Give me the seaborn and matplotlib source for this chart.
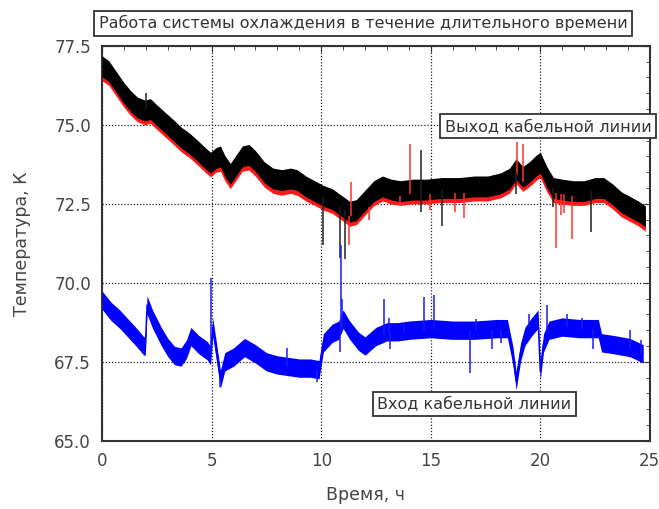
# === IMPORTS ===
import numpy as np
import pandas as pd
import seaborn as sns
import matplotlib.pyplot as plt
from matplotlib.ticker import MultipleLocator, FormatStrFormatter

# === SETTINGS ===
sns.set_style("white")
plt.rcParams["font.family"] = ["DejaVu Sans"]

# === DATA ===
# outlet of the cable line (black band, red band just below it)
time_out = [0.0, 0.3, 0.7, 1.0, 1.3, 1.6, 1.95, 2.2, 2.5, 2.9, 3.3, 3.6, 4.0, 4.4, 4.7,
            4.95, 5.2, 5.4, 5.6, 5.85, 6.1, 6.4, 6.7, 7.0, 7.4, 7.8, 8.2, 8.6, 8.9, 9.3,
            9.7, 10.1, 10.5, 10.9, 11.3, 11.6, 12.0, 12.4, 12.8, 13.2, 13.6, 14.2, 14.8,
            15.5, 16.3, 17.0, 17.6, 18.2, 18.6, 18.9, 19.2, 19.5, 19.8, 20.0, 20.3, 20.6,
            21.0, 21.5, 22.0, 22.5, 22.9, 23.3, 23.7, 24.1, 24.5, 24.8]
out_black = [76.85, 76.7, 76.3, 76.0, 75.75, 75.55, 75.45, 75.5, 75.3, 75.05, 74.8, 74.6,
             74.4, 74.15, 73.95, 73.8, 73.95, 74.0, 73.7, 73.45, 73.7, 74.0, 74.05, 73.85,
             73.5, 73.3, 73.25, 73.3, 73.25, 73.05, 72.9, 72.75, 72.65, 72.45, 72.25, 72.3,
             72.6, 72.9, 73.05, 72.95, 72.9, 72.95, 72.95, 73.0, 73.0, 73.05, 73.05, 73.15,
             73.3, 73.6, 73.35, 73.5, 73.7, 73.8, 73.35, 73.0, 72.95, 72.9, 72.9, 73.0,
             73.0, 72.8, 72.55, 72.4, 72.25, 72.1]
out_red = [76.72, 76.58, 76.18, 75.88, 75.63, 75.43, 75.33, 75.38, 75.18, 74.93, 74.68,
           74.48, 74.28, 74.03, 73.83, 73.68, 73.83, 73.86, 73.56, 73.31, 73.56, 73.86,
           73.9, 73.7, 73.36, 73.16, 73.1, 73.16, 73.1, 72.92, 72.78, 72.63, 72.53, 72.33,
           72.12, 72.17, 72.47, 72.77, 72.92, 72.82, 72.78, 72.83, 72.83, 72.87, 72.87,
           72.92, 72.92, 73.02, 73.17, 73.47, 73.22, 73.37, 73.56, 73.66, 73.21, 72.87,
           72.82, 72.78, 72.78, 72.87, 72.87, 72.67, 72.42, 72.27, 72.12, 71.96]

# inlet of the cable line (blue band)
time_in = [0.0, 0.4, 0.8, 1.2, 1.6, 1.9, 1.97, 2.05, 2.3, 2.7, 3.0, 3.3, 3.6, 3.85, 4.05,
           4.4, 4.8, 4.95, 5.05, 5.2, 5.4, 5.6, 6.0, 6.5, 7.0, 7.5, 8.0, 8.5, 9.0, 9.5,
           9.9, 10.1, 10.5, 10.8, 11.0, 11.3, 11.7, 12.0, 12.5, 13.0, 13.5, 14.0, 15.0,
           16.0, 17.0, 18.0, 18.5, 18.75, 18.9, 19.1, 19.3, 19.6, 19.9, 20.0, 20.15, 20.4,
           21.0, 21.8, 22.65, 22.8, 23.3, 24.1, 24.7]
in_blue = [69.45, 69.1, 68.85, 68.55, 68.25, 68.0, 68.0, 69.3, 68.85, 68.3, 67.95, 67.7,
           67.65, 67.9, 68.3, 68.05, 67.85, 67.7, 68.6, 67.9, 66.95, 67.5, 67.65, 67.95,
           67.75, 67.5, 67.4, 67.35, 67.3, 67.3, 67.25, 68.1, 68.4, 68.5, 68.85, 68.5,
           68.15, 68.0, 68.3, 68.45, 68.45, 68.5, 68.55, 68.5, 68.5, 68.55, 68.55, 67.7,
           66.9, 67.8, 68.3, 68.6, 68.85, 67.2, 68.1, 68.5, 68.6, 68.55, 68.55, 68.1,
           68.05, 67.95, 67.75]

# single-sample spikes: time, band level, spike tip
spike_black_t = [2.0, 10.1, 10.85, 11.1, 14.55, 14.55, 15.5, 18.9, 20.6, 22.3]
spike_black_base = [75.5, 72.7, 72.4, 72.3, 72.9, 72.9, 72.95, 73.5, 73.0, 72.9]
spike_black_tip = [76.0, 71.2, 70.8, 70.75, 74.2, 72.25, 71.8, 72.8, 72.4, 71.6]

spike_red_t = [11.25, 11.35, 12.2, 13.6, 14.05, 14.95, 16.1, 16.5, 18.95, 19.2,
               20.7, 20.95, 21.1, 21.45]
spike_red_base = [72.1, 72.1, 72.4, 72.75, 72.8, 72.8, 72.85, 72.85, 73.4, 73.2,
                  72.85, 72.8, 72.8, 72.75]
spike_red_tip = [71.2, 73.2, 72.0, 72.45, 74.4, 72.3, 72.25, 72.05, 74.45, 74.4,
                 71.1, 72.15, 72.2, 71.4]

spike_blue_t = [4.95, 5.4, 8.45, 9.8, 10.85, 10.9, 10.95, 12.85, 13.1, 13.15, 13.8, 14.7,
                15.15, 16.8, 17.05, 17.8, 18.2, 19.5, 20.3, 21.2, 21.9, 22.4, 24.1, 24.6]
spike_blue_base = [67.7, 67.0, 67.35, 67.25, 68.5, 68.5, 68.6, 68.35, 68.4, 68.4, 68.45,
                   68.5, 68.55, 68.5, 68.5, 68.5, 68.5, 68.6, 68.5, 68.6, 68.55, 68.55,
                   67.95, 67.75]
spike_blue_tip = [70.15, 66.7, 67.95, 66.85, 67.8, 71.2, 69.5, 69.5, 68.9, 67.9, 68.7,
                  69.55, 69.6, 67.15, 68.85, 67.9, 68.1, 69.0, 69.3, 69.0, 68.9, 67.9,
                  68.5, 68.2]

outlet = pd.DataFrame({"t": time_out, "black": out_black, "red": out_red})
inlet = pd.DataFrame({"t": time_in, "blue": in_blue})

# half-thickness of the noise band around each trace (style, in K)
BAND_OUT = 0.33
BAND_IN = 0.29

# === PLOT ===
fig = plt.figure(figsize=(6.59, 5.09), dpi=100)
ax = fig.add_axes([0.155, 0.134, 0.831, 0.776])


def noisy_band(df, col, color, half, z):
    # thin centre trace through seaborn, noise band around it
    sns.lineplot(data=df, x="t", y=col, color=color, linewidth=1, ax=ax, zorder=z)
    ax.fill_between(df["t"], df[col] - half, df[col] + half, color=color,
                    linewidth=0, zorder=z)


noisy_band(outlet, "red", "#ff1a1a", BAND_OUT, 2)
noisy_band(outlet, "black", "black", BAND_OUT, 3)
noisy_band(inlet, "blue", "#0000ff", BAND_IN, 3)

ax.vlines(spike_red_t, spike_red_base, spike_red_tip, color="#ff3030", lw=1.1, zorder=4)
ax.vlines(spike_black_t, spike_black_base, spike_black_tip, color="#202020", lw=1.1, zorder=4)
ax.vlines(spike_blue_t, spike_blue_base, spike_blue_tip, color="#1a1aff", lw=1.1, zorder=4)

ax.set_xlim(0, 25)
ax.set_ylim(65, 77.5)
ax.xaxis.set_major_locator(MultipleLocator(5))
ax.xaxis.set_minor_locator(MultipleLocator(1))
ax.yaxis.set_major_locator(MultipleLocator(2.5))
ax.yaxis.set_minor_locator(MultipleLocator(0.5))
ax.yaxis.set_major_formatter(FormatStrFormatter("%.1f"))

ax.grid(True, which="major", linestyle=(0, (1, 1.5)), color="#222222", linewidth=0.9)
ax.set_axisbelow(True)
ax.tick_params(which="both", direction="in", top=True, right=True,
               color="#333333", labelcolor="#444444", labelsize=12)
ax.tick_params(which="major", length=4, pad=8)
ax.tick_params(which="minor", length=3)
for sp in ax.spines.values():
    sp.set_color("#333333")
    sp.set_linewidth(1.5)

ax.set_xlabel("Время, ч", fontsize=12.5, color="#444444")
ax.set_ylabel("Температура, К", fontsize=12.5, color="#444444")
ax.xaxis.set_label_coords(0.48, -0.115)
ax.yaxis.set_label_coords(-0.13, 0.5)

box = dict(boxstyle="square,pad=0.28", facecolor="white", edgecolor="#333333", linewidth=1.3)
fig.text(0.551, 0.954, "Работа системы охлаждения в течение длительного времени",
         ha="center", va="center", fontsize=11.5, color="#333333", bbox=box)
ax.text(20.36, 74.95, "Выход кабельной линии", ha="center", va="center",
        fontsize=11.5, color="#333333", bbox=box, zorder=6, clip_on=False)
ax.text(17.0, 66.17, "Вход кабельной линии", ha="center", va="center",
        fontsize=11.5, color="#333333", bbox=box, zorder=6)

fig.savefig("out.png", dpi=100)
plt.close(fig)
